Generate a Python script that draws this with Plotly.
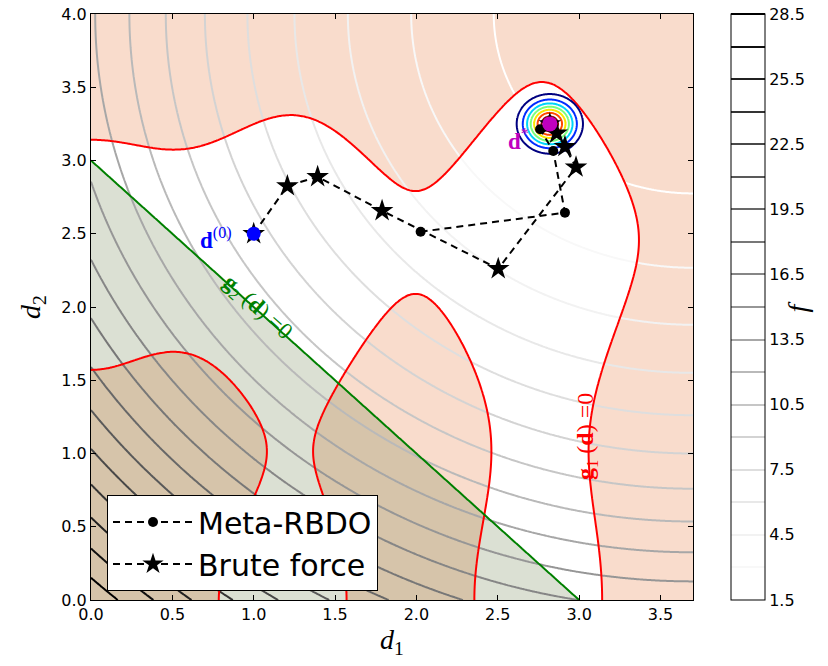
import numpy as np
import plotly.graph_objects as go

# ---------------- data ----------------
d1_range = [0.0, 3.7]
d2_range = [0.0, 4.0]
f_center = [3.7, 4.0]            # objective f = (d1-3.7)^2 + (d2-4)^2
f_start, f_end, f_step = 1.5, 28.5, 1.5
cbar_ticks = [1.5, 4.5, 7.5, 10.5, 13.5, 16.5, 19.5, 22.5, 25.5, 28.5]
g2_limit = 3.0                   # g2: d1 + d2 = 3

d0 = [1.0, 2.5]
d_star = [2.82, 3.25]
pdf_sigma = 0.1
pdf_levels = [2, 14, 2]

meta_d1 = [2.026, 2.913, 2.841, 2.760, 2.82]
meta_d2 = [2.514, 2.644, 3.065, 3.213, 3.25]
brute_d1 = [1.0, 1.207, 1.393, 1.789, 2.503, 2.981, 2.913, 2.862, 2.82]
brute_d2 = [2.5, 2.826, 2.889, 2.657, 2.261, 2.954, 3.094, 3.186, 3.25]

xticks = [0.0, 0.5, 1.0, 1.5, 2.0, 2.5, 3.0, 3.5]
yticks = [0.0, 0.5, 1.0, 1.5, 2.0, 2.5, 3.0, 3.5, 4.0]

# ---------------- fields ----------------
x = np.linspace(d1_range[0], d1_range[1], 371)
y = np.linspace(d2_range[0], d2_range[1], 401)
X, Y = np.meshgrid(x, y)
F = (X - f_center[0]) ** 2 + (Y - f_center[1]) ** 2
G1 = -X * np.sin(4 * X) - 1.1 * Y * np.sin(2 * Y)
G2 = X + Y - g2_limit

px_ = np.linspace(d_star[0] - 0.4, d_star[0] + 0.4, 201)
py_ = np.linspace(d_star[1] - 0.4, d_star[1] + 0.4, 201)
PX, PY = np.meshgrid(px_, py_)
P = np.exp(-((PX - d_star[0]) ** 2 + (PY - d_star[1]) ** 2) / (2 * pdf_sigma ** 2)) / (2 * np.pi * pdf_sigma ** 2)


def seg_cmap(red, green, blue, n=21):
    out = []
    for t in np.linspace(0, 1, n):
        c = [np.interp(t, [p[0] for p in s], [p[1] for p in s]) for s in (red, green, blue)]
        out.append([float(t), "rgb(%d,%d,%d)" % tuple(int(round(v * 255)) for v in c)])
    return out


jet = seg_cmap([(0, 0), (0.35, 0), (0.66, 1), (0.89, 1), (1, 0.5)],
               [(0, 0), (0.125, 0), (0.375, 1), (0.64, 1), (0.91, 0), (1, 0)],
               [(0, 0.5), (0.11, 1), (0.34, 1), (0.65, 0), (1, 0)])
grey_vals = [255, 240, 217, 189, 150, 115, 82, 37, 0]
greys = [[i / 8, "rgb(%d,%d,%d)" % (v, v, v)] for i, v in enumerate(grey_vals)]

serif = "Liberation Serif"
fig = go.Figure()

# infeasible region of g1 (salmon): plotly shades where the constraint fails
fig.add_trace(go.Contour(x=x, y=y, z=G1, contours=dict(type="constraint", operation=">", value=0),
                         fillcolor="rgb(249,220,204)", line=dict(width=0, color="rgba(0,0,0,0)"),
                         showscale=False, hoverinfo="skip", showlegend=False))
# infeasible region of g2 (green)
fig.add_trace(go.Contour(x=x, y=y, z=G2, contours=dict(type="constraint", operation=">", value=0),
                         fillcolor="rgba(85,107,47,0.21)", line=dict(width=0, color="rgba(0,0,0,0)"),
                         showscale=False, hoverinfo="skip", showlegend=False))
# objective contours
fig.add_trace(go.Contour(
    x=x, y=y, z=F, autocontour=False,
    contours=dict(start=f_start, end=f_end, size=f_step, coloring="lines"),
    colorscale=greys, zmin=f_start, zmax=f_end, line=dict(width=2),
    hoverinfo="skip", showlegend=False,
    colorbar=dict(x=(731 - 91) / 602, xanchor="left", xpad=0, ypad=0,
                  y=0, yanchor="bottom", len=1, lenmode="fraction",
                  thickness=34, thicknessmode="pixels",
                  outlinewidth=1, outlinecolor="black",
                  tickvals=cbar_ticks, ticktext=["%.1f" % v for v in cbar_ticks],
                  ticklabeloverflow="allow",
                  ticks="", tickfont=dict(family="DejaVu Sans", size=16, color="black")),
))
# constraint lines
fig.add_trace(go.Contour(x=x, y=y, z=G1, autocontour=False,
                         contours=dict(start=0, end=0, size=1, coloring="lines"),
                         colorscale=[[0, "red"], [1, "red"]], line=dict(width=2),
                         showscale=False, hoverinfo="skip", showlegend=False))
fig.add_trace(go.Contour(x=x, y=y, z=G2, autocontour=False,
                         contours=dict(start=0, end=0, size=1, coloring="lines"),
                         colorscale=[[0, "green"], [1, "green"]], line=dict(width=2),
                         showscale=False, hoverinfo="skip", showlegend=False))
# pdf at optimum
fig.add_trace(go.Contour(x=px_, y=py_, z=P, autocontour=False,
                         contours=dict(start=pdf_levels[0], end=pdf_levels[1], size=pdf_levels[2], coloring="lines"),
                         colorscale=jet, zmin=pdf_levels[0], zmax=pdf_levels[1], line=dict(width=2),
                         showscale=False, hoverinfo="skip", showlegend=False))

# paths
fig.add_trace(go.Scatter(x=brute_d1, y=brute_d2, mode="lines+markers", name="Brute force",
                         line=dict(color="black", width=2, dash="7px,5px"),
                         marker=dict(symbol="star", size=17, color="black")))
fig.add_trace(go.Scatter(x=meta_d1, y=meta_d2, mode="lines+markers", name="Meta-RBDO",
                         line=dict(color="black", width=2, dash="7px,5px"),
                         marker=dict(symbol="circle", size=10, color="black")))
fig.add_trace(go.Scatter(x=[d0[0]], y=[d0[1]], mode="markers", showlegend=False,
                         marker=dict(symbol="circle", size=14, color="blue")))
fig.add_trace(go.Scatter(x=[d_star[0]], y=[d_star[1]], mode="markers", showlegend=False,
                         marker=dict(symbol="circle", size=15, color="rgb(191,0,191)")))

annotations = [
    dict(x=0.768, y=2.47, text="<b>d</b><sup>(0)</sup>", showarrow=False,
         font=dict(family=serif, size=23, color="blue")),
    dict(x=2.63, y=3.14, text="<b>d</b><sup>*</sup>", showarrow=False,
         font=dict(family=serif, size=23, color="rgb(191,0,191)")),
    dict(x=1.02, y=1.99, text="<b>g</b><sub>2</sub> (<b>d</b>) =0", showarrow=False, textangle=42,
         font=dict(family=serif, size=23, color="green")),
    dict(x=3.049, y=1.113, text="<b>g</b><sub>1</sub> (<b>d</b>) =0", showarrow=False, textangle=-90,
         font=dict(family=serif, size=24, color="red")),
    dict(x=(814 - 91) / 602, y=0.5, xref="paper", yref="paper", text="<i>f</i>", showarrow=False,
         textangle=-90, font=dict(family=serif, size=28, color="black")),
]

axis_common = dict(showline=True, linecolor="black", linewidth=1, mirror="ticks",
                   ticks="inside", ticklen=5, tickcolor="black", showgrid=False, zeroline=False,
                   ticklabeloverflow="allow",
                   tickfont=dict(family="DejaVu Sans", size=16, color="black"))

fig.update_layout(
    width=828, height=666,
    margin=dict(l=91, r=135, t=14, b=66, autoexpand=False),
    plot_bgcolor="white", paper_bgcolor="white",
    font=dict(family="DejaVu Sans", color="black"),
    xaxis=dict(range=d1_range, tickvals=xticks, ticktext=["%.1f" % v for v in xticks],
               title=dict(text="<i>d</i><sub>1</sub>", font=dict(family=serif, size=28), standoff=6),
               **axis_common),
    yaxis=dict(range=d2_range, tickvals=yticks, ticktext=["%.1f" % v for v in yticks],
               title=dict(text="<i>d</i><sub>2</sub>", font=dict(family=serif, size=28), standoff=12),
               **axis_common),
    legend=dict(x=(107 - 91) / 602, y=(600 - 495) / 586, xanchor="left", yanchor="top",
                bgcolor="white", bordercolor="black", borderwidth=1,
                font=dict(family="DejaVu Sans", size=30, color="black"),
                traceorder="reversed", itemwidth=80, tracegroupgap=0),
    annotations=annotations,
)

# remove the default 8px page margin so the figure fills the window exactly
fig.write_html("out.html", config={"displayModeBar": False},
               post_script="document.body.style.margin='0px';")
